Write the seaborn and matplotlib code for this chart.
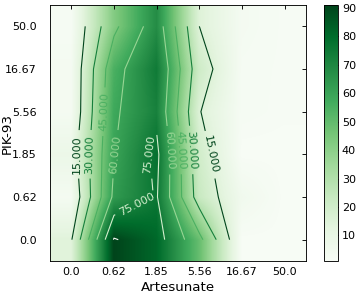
import numpy as np
import seaborn as sns
import matplotlib
matplotlib.use("Agg")
import matplotlib.pyplot as plt

# concentrations (tick labels), bottom->top for PIK-93, left->right for Artesunate
artesunate = ["0.0", "0.62", "1.85", "5.56", "16.67", "50.0"]
pik93 = ["0.0", "0.62", "1.85", "5.56", "16.67", "50.0"]

# response (%) per PIK-93 row, columns follow artesunate
row_pik_0 = [14, 91, 81, 49, 1, 1]
row_pik_062 = [3, 63, 76, 23, 5, 1]
row_pik_185 = [8, 59.5, 78, 20, 1, 1]
row_pik_556 = [3, 58, 72, 15.5, 2, 1.5]
row_pik_1667 = [3, 55, 74.5, 21, 2.2, 1.5]
row_pik_50 = [2, 42, 68, 15, 3, 1.5]

levels = [15, 30, 45, 60, 75, 90]

# rough spots (grid units) where the contour labels sit
label_spots = [(0.14, 2.0), (0.45, 2.0), (0.73, 3.0), (1.06, 2.0), (1.72, 2.0),
               (1.55, 0.82), (2.33, 2.1), (2.52, 2.1), (2.78, 2.1), (3.3, 2.0)]

Z = np.array([row_pik_0, row_pik_062, row_pik_185,
              row_pik_556, row_pik_1667, row_pik_50], dtype=float)

sns.set_style("white", {"text.color": "black", "axes.labelcolor": "black",
                        "xtick.color": "black", "ytick.color": "black",
                        "axes.edgecolor": "black"})
plt.rcParams['font.family'] = ['DejaVu Sans']
plt.rcParams['xtick.direction'] = 'in'
plt.rcParams['ytick.direction'] = 'in'

cmap = sns.color_palette("Greens", as_cmap=True)

fig = plt.figure(figsize=(357 / 80, 295 / 80), dpi=80)
ax = fig.add_axes([50 / 357, 34 / 295, 256 / 357, 256 / 295])
cax = fig.add_axes([324 / 357, 34 / 295, 14 / 357, 256 / 295])

im = ax.imshow(Z, cmap=cmap, origin='lower', interpolation='bilinear', aspect='auto')
cs = ax.contour(np.arange(len(artesunate)), np.arange(len(pik93)), Z,
                levels=levels, cmap='Greens_r', linewidths=1)
ax.clabel(cs, fmt='%1.3f', fontsize=10, manual=label_spots)

ax.set_xticks(range(len(artesunate)))
ax.set_xticklabels(artesunate, fontsize=10)
ax.set_yticks(range(len(pik93)))
ax.set_yticklabels(pik93, fontsize=10)
ax.tick_params(axis='x', top=True, length=4, width=0.8, pad=5)
ax.tick_params(axis='y', right=True, length=4, width=0.8, pad=12)
ax.set_xlabel("Artesunate", fontsize=12)
ax.set_ylabel("PIK-93", fontsize=12)
ax.yaxis.set_label_coords(-0.14, 0.5)

cb = fig.colorbar(im, cax=cax, ticks=range(10, 100, 10))
cb.ax.tick_params(labelsize=10, direction='in', length=4, width=0.8)
cb.outline.set_edgecolor('black')

fig.savefig("out.png", dpi=80)
